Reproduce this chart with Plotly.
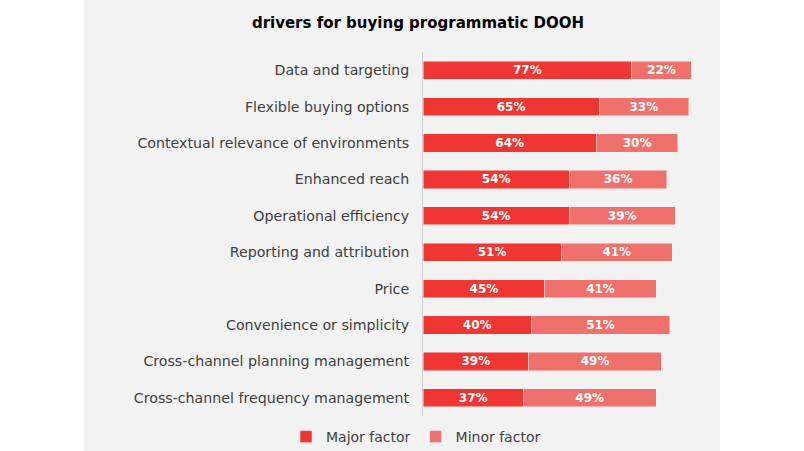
import plotly.graph_objects as go

categories = [
    "Data and targeting",
    "Flexible buying options",
    "Contextual relevance of environments",
    "Enhanced reach",
    "Operational efficiency",
    "Reporting and attribution",
    "Price",
    "Convenience or simplicity",
    "Cross-channel planning management",
    "Cross-channel frequency management",
]
major = [77, 65, 64, 54, 54, 51, 45, 40, 39, 37]
minor = [22, 33, 30, 36, 39, 41, 41, 51, 49, 49]

W, H = 804, 451
L, R, T, B = 423, 694, 52, 416
pw, ph = R - L, B - T

FONT = "DejaVu Sans"

fig = go.Figure()
fig.add_trace(go.Bar(
    y=categories, x=major, orientation="h", name="Major factor",
    marker=dict(color="#EF3632", line=dict(color="#f2f2f2", width=0.5)),
    texttemplate="%{x}%", textposition="inside", insidetextanchor="middle",
    constraintext="none",
    textfont=dict(color="white", size=12, family=FONT, weight="bold"),
    width=0.5,
))
fig.add_trace(go.Bar(
    y=categories, x=minor, orientation="h", name="Minor factor",
    marker=dict(color="#F0706C", line=dict(color="#f2f2f2", width=0.5)),
    texttemplate="%{x}%", textposition="inside", insidetextanchor="middle",
    constraintext="none",
    textfont=dict(color="white", size=12, family=FONT, weight="bold"),
    width=0.5,
))

fig.update_layout(
    width=W, height=H,
    barmode="stack",
    margin=dict(l=L, r=W - R, t=T, b=H - B, pad=0, autoexpand=False),
    paper_bgcolor="white",
    plot_bgcolor="rgba(0,0,0,0)",
    font=dict(family=FONT, color="#404040"),
    title=dict(
        text="<b>drivers for buying programmatic DOOH</b>",
        x=418 / W, xref="container", xanchor="center",
        y=1 - 23 / H, yref="container", yanchor="middle",
        font=dict(size=15, color="#000000", family=FONT),
    ),
    xaxis=dict(range=[0, 100], visible=False, fixedrange=True),
    yaxis=dict(
        autorange="reversed", showline=True, linecolor="#d0d0d0", linewidth=1,
        showgrid=False, ticks="outside", ticklen=10, tickcolor="rgba(0,0,0,0)",
        tickfont=dict(size=14.2, color="#404040", family=FONT),
        automargin=False, fixedrange=True,
    ),
    legend=dict(
        orientation="h", x=416 / W, xanchor="center", xref="container",
        y=1 - 437 / H, yanchor="middle", yref="container",
        traceorder="normal",
        font=dict(size=14, color="#404040", family=FONT),
        itemwidth=30, bgcolor="rgba(0,0,0,0)",
    ),
    showlegend=True,
    shapes=[dict(
        type="rect", xref="paper", yref="paper", layer="below",
        x0=(84 - L) / pw, x1=(720 - L) / pw,
        y0=(B - H) / ph, y1=B / ph,
        fillcolor="#f2f2f2", line=dict(width=0),
    )],
)

fig.write_html(
    "out.html",
    config={"displayModeBar": False},
    post_script="document.body.style.margin='0';document.body.style.overflow='hidden';",
)
